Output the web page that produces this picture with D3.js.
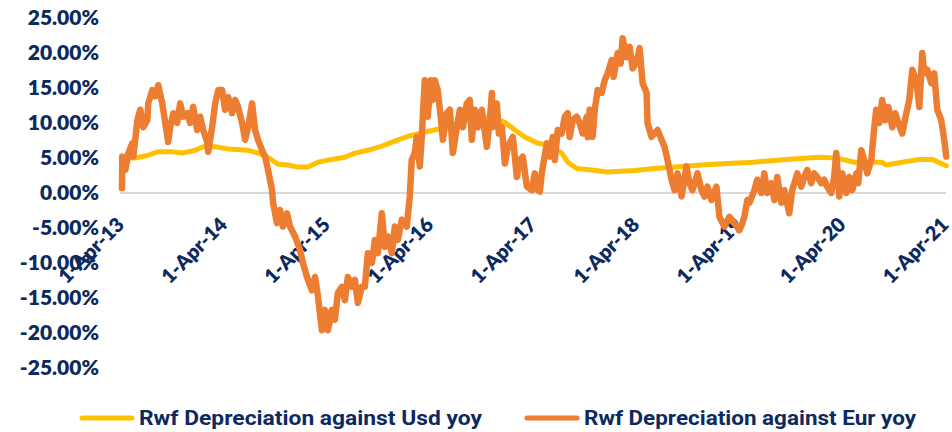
<!DOCTYPE html>
<html>
<head>
<meta charset="utf-8">
<script src="https://cdn.jsdelivr.net/npm/d3@7"></script>
<style>
  body { margin: 0; background: #fff; }
  svg { display: block; }
</style>
</head>
<body>
<div id="chart"></div>
<script>
// dates as decimal years, values in % yoy
const usdDates = [2013.260, 2013.395, 2013.521, 2013.618, 2013.754, 2013.851, 2013.977, 2014.054, 2014.171, 2014.297,
  2014.490, 2014.587, 2014.684, 2014.781, 2014.878, 2014.975, 2015.072, 2015.169, 2015.266, 2015.430,
  2015.527, 2015.653, 2015.789, 2015.915, 2016.041, 2016.176, 2016.331, 2016.525, 2016.719, 2016.884,
  2016.981, 2017.078, 2017.174, 2017.300, 2017.397, 2017.533, 2017.591, 2017.678, 2017.824, 2017.979,
  2018.240, 2018.434, 2018.628, 2018.890, 2019.141, 2019.384, 2019.713, 2020.033, 2020.198, 2020.372,
  2020.517, 2020.643, 2020.682, 2020.837, 2021.002, 2021.128, 2021.264];
const usdValues = [5.0, 5.0, 5.4, 5.9, 5.9, 5.7, 6.1, 6.6, 6.6, 6.3,
  6.1, 5.7, 5.1, 4.1, 4.0, 3.7, 3.7, 4.4, 4.7, 5.1,
  5.7, 6.1, 6.7, 7.4, 8.1, 8.6, 9.1, 10.0, 10.7, 10.6,
  10.1, 9.0, 8.0, 7.1, 6.9, 5.7, 4.4, 3.5, 3.3, 3.0,
  3.2, 3.5, 3.7, 4.0, 4.2, 4.4, 4.8, 5.1, 5.0, 4.4,
  4.4, 4.4, 4.0, 4.4, 4.8, 4.8, 3.9];

const eurDates = [2013.266, 2013.269, 2013.298, 2013.328, 2013.366, 2013.376, 2013.415, 2013.444, 2013.473, 2013.512,
  2013.521, 2013.560, 2013.589, 2013.618, 2013.657, 2013.686, 2013.715, 2013.734, 2013.764, 2013.802,
  2013.831, 2013.860, 2013.899, 2013.928, 2013.957, 2013.996, 2014.025, 2014.054, 2014.093, 2014.103,
  2014.141, 2014.171, 2014.200, 2014.238, 2014.267, 2014.297, 2014.335, 2014.364, 2014.393, 2014.432,
  2014.461, 2014.490, 2014.529, 2014.558, 2014.587, 2014.626, 2014.655, 2014.684, 2014.723, 2014.733,
  2014.771, 2014.800, 2014.829, 2014.868, 2014.897, 2014.946, 2014.994, 2015.023, 2015.062, 2015.110,
  2015.140, 2015.169, 2015.207, 2015.236, 2015.266, 2015.304, 2015.333, 2015.362, 2015.401, 2015.430,
  2015.459, 2015.498, 2015.527, 2015.556, 2015.595, 2015.624, 2015.653, 2015.692, 2015.721, 2015.750,
  2015.789, 2015.818, 2015.847, 2015.886, 2015.915, 2015.944, 2015.983, 2016.031, 2016.060, 2016.079,
  2016.108, 2016.128, 2016.157, 2016.176, 2016.205, 2016.234, 2016.263, 2016.283, 2016.302, 2016.331,
  2016.370, 2016.380, 2016.419, 2016.448, 2016.477, 2016.516, 2016.545, 2016.574, 2016.612, 2016.641,
  2016.661, 2016.690, 2016.719, 2016.758, 2016.806, 2016.835, 2016.855, 2016.864, 2016.903, 2016.923,
  2016.952, 2016.981, 2017.010, 2017.058, 2017.097, 2017.126, 2017.155, 2017.194, 2017.242, 2017.271,
  2017.300, 2017.320, 2017.339, 2017.388, 2017.417, 2017.446, 2017.465, 2017.494, 2017.533, 2017.562,
  2017.591, 2017.610, 2017.639, 2017.678, 2017.707, 2017.736, 2017.775, 2017.785, 2017.804, 2017.833,
  2017.853, 2017.882, 2017.920, 2017.950, 2017.979, 2018.018, 2018.037, 2018.076, 2018.105, 2018.124,
  2018.163, 2018.192, 2018.221, 2018.260, 2018.289, 2018.318, 2018.357, 2018.366, 2018.405, 2018.434,
  2018.463, 2018.502, 2018.531, 2018.560, 2018.599, 2018.628, 2018.657, 2018.696, 2018.744, 2018.773,
  2018.802, 2018.851, 2018.890, 2018.919, 2018.948, 2018.986, 2019.035, 2019.064, 2019.112, 2019.161,
  2019.209, 2019.258, 2019.287, 2019.306, 2019.335, 2019.355, 2019.403, 2019.432, 2019.471, 2019.500,
  2019.529, 2019.568, 2019.597, 2019.626, 2019.665, 2019.694, 2019.742, 2019.771, 2019.820, 2019.859,
  2019.888, 2019.917, 2019.955, 2019.984, 2020.014, 2020.052, 2020.081, 2020.110, 2020.149, 2020.178,
  2020.198, 2020.227, 2020.256, 2020.295, 2020.324, 2020.353, 2020.392, 2020.411, 2020.440, 2020.469,
  2020.498, 2020.537, 2020.566, 2020.585, 2020.614, 2020.643, 2020.672, 2020.702, 2020.740, 2020.769,
  2020.798, 2020.837, 2020.876, 2020.905, 2020.934, 2020.973, 2021.002, 2021.031, 2021.050, 2021.079,
  2021.118, 2021.147, 2021.176, 2021.215, 2021.244, 2021.264];
const eurValues = [0.7, 5.2, 3.3, 5.7, 7.1, 5.2, 10.4, 11.9, 9.4, 10.4,
  12.8, 14.7, 13.8, 15.4, 12.8, 10.0, 7.3, 9.4, 11.4, 10.0,
  12.8, 10.9, 11.4, 10.0, 12.3, 9.0, 10.9, 9.0, 7.3, 5.9,
  9.4, 12.8, 14.7, 14.7, 11.9, 13.7, 11.4, 13.3, 12.3, 10.0,
  7.6, 9.4, 12.8, 9.0, 7.6, 6.1, 5.2, 3.3, 0.4, -1.4,
  -4.3, -2.4, -4.8, -2.9, -4.8, -6.2, -8.1, -10.0, -12.0, -13.9,
  -12.0, -14.8, -19.6, -16.7, -19.6, -16.7, -18.1, -14.3, -13.4, -15.3,
  -12.0, -13.4, -12.4, -15.7, -13.4, -13.4, -8.6, -10.0, -6.7, -8.6,
  -2.9, -7.7, -6.2, -8.6, -4.8, -6.7, -3.8, -4.8, -0.5, 4.7,
  5.7, 8.0, 3.8, 8.0, 16.1, 10.9, 16.1, 13.3, 16.1, 14.7,
  9.4, 7.6, 11.4, 11.9, 5.7, 9.4, 11.9, 9.4, 12.8, 13.3,
  7.6, 11.9, 9.4, 11.9, 6.6, 10.4, 14.3, 9.4, 12.8, 8.5,
  9.4, 4.2, 6.6, 8.0, 2.3, 4.7, 5.2, 0.9, 0.4, 2.8,
  0.4, 0.2, 2.8, 7.1, 5.2, 8.0, 4.7, 9.0, 8.5, 10.9,
  11.4, 8.0, 10.4, 10.9, 10.0, 8.5, 10.9, 8.0, 11.9, 8.0,
  11.9, 14.7, 14.3, 16.1, 17.1, 19.0, 16.6, 20.0, 18.5, 22.1,
  19.4, 20.9, 17.8, 18.7, 20.7, 15.7, 14.3, 10.0, 8.0, 8.5,
  9.0, 7.6, 6.6, 4.7, 1.9, 0.4, 2.8, -0.5, 3.8, 1.4,
  0.4, 2.8, 0.4, -0.5, 0.9, -1.0, 0.9, -3.4, -4.8, -3.4,
  -4.3, -5.3, -4.3, -3.4, -1.0, -1.4, 0.4, 1.9, 0.0, 2.8,
  0.0, 1.4, -1.0, 2.3, -1.4, 0.4, -2.9, 0.4, 2.8, 0.9,
  2.3, 3.3, 1.4, 2.8, 2.3, 1.4, 1.9, 0.9, 0.0, 2.3,
  5.7, -0.5, 2.8, 0.0, 2.3, 0.4, 2.8, 1.4, 6.1, 4.7,
  2.8, 4.7, 9.4, 11.9, 10.0, 13.3, 10.4, 12.3, 9.4, 11.4,
  10.0, 8.5, 11.4, 13.3, 17.6, 16.1, 12.3, 20.0, 17.1, 17.6,
  15.7, 17.1, 11.9, 10.4, 7.6, 5.2];

const yTicks = [-25, -20, -15, -10, -5, 0, 5, 10, 15, 20, 25];
const xTicks = ["2013-04-01", "2014-04-01", "2015-04-01", "2016-04-01", "2017-04-01",
  "2018-04-01", "2019-04-01", "2020-04-01", "2021-04-01"];
const seriesNames = ["Rwf Depreciation against Usd yoy", "Rwf Depreciation against Eur yoy"];
const seriesColors = ["#ffc000", "#ed7d31"];

const width = 952;
const height = 432;
const textColor = "#0c2a60";
const axisFont = "Lato, 'Open Sans', sans-serif";

function fromYear(t) {
  const y = Math.floor(t);
  const start = new Date(y, 0, 1);
  const end = new Date(y + 1, 0, 1);
  return new Date(+start + (t - y) * (end - start));
}

const parse = d3.timeParse("%Y-%m-%d");
const usd = usdDates.map((d, i) => ({ date: fromYear(d), value: usdValues[i] }));
const eur = eurDates.map((d, i) => ({ date: fromYear(d), value: eurValues[i] }));

const svg = d3.select("#chart")
  .append("svg")
  .attr("width", width)
  .attr("height", height);

const x = d3.scaleTime()
  .domain([parse(xTicks[0]), parse(xTicks[xTicks.length - 1])])
  .range([120, 944.5]);

const y = d3.scaleLinear()
  .domain([-25, 25])
  .range([368, 18]);

// y axis labels (no axis line)
svg.append("g")
  .attr("transform", "translate(120,0)")
  .call(d3.axisLeft(y)
    .tickValues(yTicks)
    .tickSize(0)
    .tickPadding(21)
    .tickFormat((d) => d.toFixed(2) + "%"))
  .call((g) => g.select(".domain").remove())
  .call((g) => g.selectAll("text")
    .attr("fill", textColor)
    .attr("font-family", axisFont)
    .attr("font-weight", 800)
    .attr("font-size", 21));

// x axis sitting on zero
svg.append("g")
  .attr("transform", `translate(0,${y(0)})`)
  .call(d3.axisBottom(x)
    .tickValues(xTicks.map(parse))
    .tickSize(0)
    .tickFormat(d3.timeFormat("%-d-%b-%y")))
  .call((g) => g.select(".domain")
    .attr("stroke", "#d9d9d9")
    .attr("stroke-width", 2)
    .attr("d", `M120,0H946`))
  .call((g) => g.selectAll("text")
    .attr("x", 0)
    .attr("y", 0)
    .attr("dy", "0.35em")
    .attr("text-anchor", "end")
    .attr("transform", "translate(0,28) rotate(-45)")
    .attr("fill", textColor)
    .attr("font-family", axisFont)
    .attr("font-weight", 800)
    .attr("font-size", 20));

const line = d3.line()
  .x((d) => x(d.date))
  .y((d) => y(d.value));

svg.append("path")
  .datum(usd)
  .attr("d", line)
  .attr("fill", "none")
  .attr("stroke", seriesColors[0])
  .attr("stroke-width", 5)
  .attr("stroke-linejoin", "round")
  .attr("stroke-linecap", "round");

svg.append("path")
  .datum(eur)
  .attr("d", line)
  .attr("fill", "none")
  .attr("stroke", seriesColors[1])
  .attr("stroke-width", 6.5)
  .attr("stroke-linejoin", "round")
  .attr("stroke-linecap", "round");

// legend
const legendX = [82, 527];
const legendText = [343, 332];
const legend = svg.append("g").attr("transform", "translate(0,418)");
seriesNames.forEach((name, i) => {
  legend.append("line")
    .attr("x1", legendX[i])
    .attr("x2", legendX[i] + 50)
    .attr("stroke", seriesColors[i])
    .attr("stroke-width", 5)
    .attr("stroke-linecap", "round");
  legend.append("text")
    .attr("x", legendX[i] + 57)
    .attr("dy", "0.35em")
    .attr("fill", textColor)
    .attr("font-family", "Roboto, sans-serif")
    .attr("font-weight", 700)
    .attr("font-size", 21)
    .attr("textLength", legendText[i])
    .attr("lengthAdjust", "spacingAndGlyphs")
    .text(name);
});
</script>
</body>
</html>
